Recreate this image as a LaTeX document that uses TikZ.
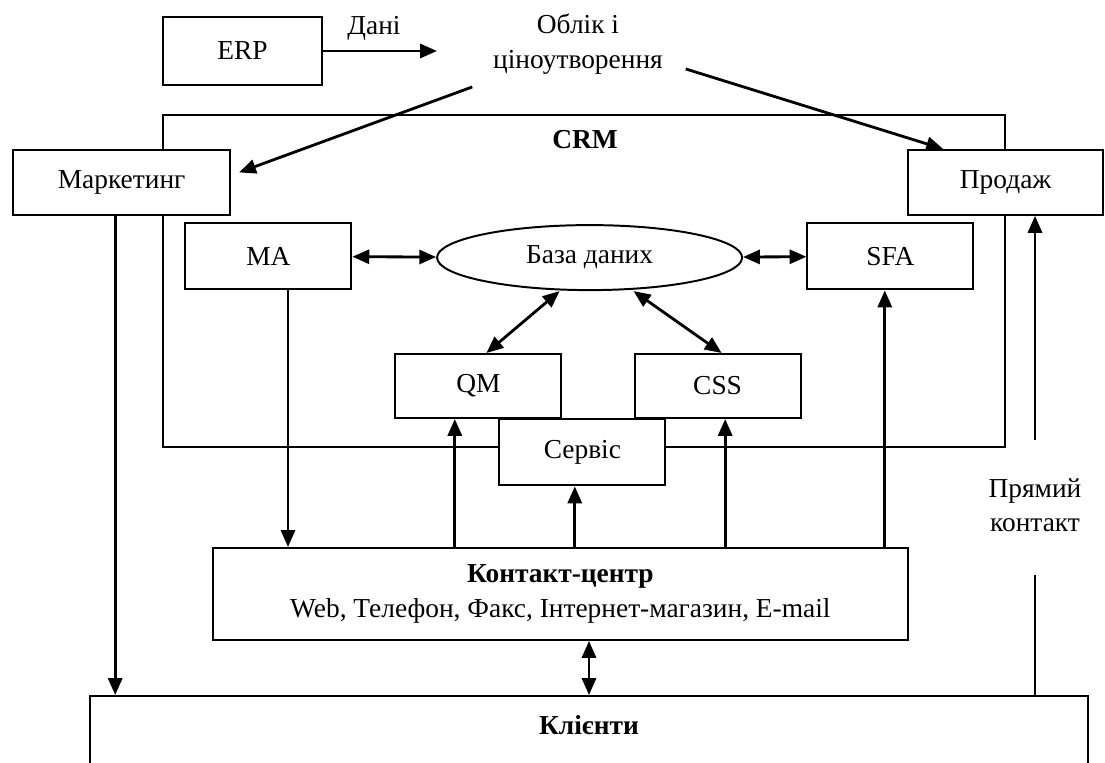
\documentclass[tikz,border=0pt]{standalone}
\usepackage{fontspec}
\setmainfont{Liberation Serif}
\usetikzlibrary{arrows.meta,shapes.geometric}

\tikzset{
  block/.style={draw, fill=white, line width=1.4pt, inner sep=0pt,
    minimum width=4.15cm, minimum height=1.65cm},
  link/.style={line width=2pt, -{Triangle[length=12pt,width=10pt]}},
  twolink/.style={line width=2pt,
    {Triangle[length=12pt,width=10pt]}-{Triangle[length=12pt,width=10pt]}},
}

\begin{document}
\begin{tikzpicture}[y=-1cm, font=\fontsize{19.5}{24.5}\selectfont]
                        \useasboundingbox (0,0) rectangle (27.625,19.05);

                        % CRM frame and its title
                        \node [draw, line width=1.4pt, minimum width=21.05cm, minimum height=8.3cm] (crm) at (14.6,7.025) {};%
                        \node [font=\fontsize{19.5}{24.5}\bfseries] (crmtitle) at (14.625,3.5) {CRM};%

                        % ERP and accounting
                        \node [block, minimum width=3.975cm, minimum height=1.7cm] (erp) at (6.06,1.275) {ERP};%
                        \node [align=center] (oblik) at (14.45,1.1) {Облік і\\ціноутворення};%
                        \coordinate (dani) at (10.925,1.275);%
                        \node (danilabel) at (9.35,0.72) {Дані};%

                        % Marketing and sales
                        \node [block, minimum width=5.425cm, minimum height=1.625cm] (marketing) at (3.04,4.56) {Маркетинг};%
                        \node [block, minimum width=4.875cm, minimum height=1.625cm] (prodazh) at (25.14,4.56) {Продаж};%

                        % Inner blocks of CRM
                        \node [block] (ma) at (6.71,6.41) {MA};%
                        \node [ellipse, draw, fill=white, line width=1.4pt, inner sep=0pt,
                               minimum width=7.625cm, minimum height=1.625cm] (db) at (14.74,6.44) {База даних};%
                        \node [block] (sfa) at (22.26,6.41) {SFA};%
                        \node [block, minimum height=1.6cm] (qm) at (11.96,9.65) {QM};%
                        \node [block, minimum height=1.6cm] (css) at (17.94,9.65) {CSS};%
                        \node [block] (servis) at (14.56,11.31) {Сервіс};%

                        % Contact centre and clients
                        \node [block, minimum width=17.375cm, minimum height=2.3cm, align=center] (contact) at (14.01,14.85)
                              {\textbf{Контакт-центр}\\Web, Телефон, Факс, Інтернет-магазин, E-mail};%
                        \node [block, anchor=north, minimum width=24.95cm, minimum height=2.5cm,
                               label={[anchor=center, yshift=-0.75cm, font=\fontsize{19.5}{24.5}\bfseries]north:Клієнти}] (klienty) at (14.725,17.375) {};%

                        % Direct contact
                        \node [align=center] (direct) at (25.875,12.625) {Прямий\\контакт};%
                        \coordinate (pk1) at (25.875,14.375);%
                        \coordinate (pk2) at (25.875,11.0);%

                        % Drawing arrows from ERP and accounting
                        \draw [link] (erp) -- (dani);%
                        \draw [link] ([xshift=-0.4cm,yshift=-0.2cm]oblik.south west) -- ([xshift=0.2cm,yshift=0.25cm]marketing.east);%
                        \draw [link] ([xshift=0.45cm,yshift=0.25cm]oblik.south east) -- ([xshift=0.9cm]prodazh.north west);%

                        % Drawing arrows round the database
                        \draw [twolink] (ma) -- (db);%
                        \draw [twolink] (db) -- (sfa);%
                        \draw [twolink] ([xshift=-0.75cm]db.south) -- ([xshift=0.2cm]qm.north);%
                        \draw [twolink] ([xshift=1.1cm]db.south) -- ([xshift=0.1cm]css.north);%

                        % Drawing arrows to the contact centre
                        \draw [link] ([xshift=0.49cm]ma.south) -- ([xshift=0.49cm]contact.north -| ma.south);%
                        \draw [link] ([xshift=-0.59cm]contact.north -| qm.south) -- ([xshift=-0.59cm]qm.south);%
                        \draw [link] ([xshift=-0.19cm]contact.north -| servis.south) -- ([xshift=-0.19cm]servis.south);%
                        \draw [link] ([xshift=0.19cm]contact.north -| css.south) -- ([xshift=0.19cm]css.south);%
                        \draw [link] ([xshift=-0.14cm]contact.north -| sfa.south) -- ([xshift=-0.14cm]sfa.south);%

                        % Drawing arrows to the clients
                        \draw [link] ([xshift=-0.16cm]marketing.south) -- ([xshift=-0.16cm]klienty.north -| marketing.south);%
                        \draw [twolink] (contact.south -| klienty.north) -- (klienty.north);%
                        \draw [line width=2pt] (klienty.north -| pk1) -- (pk1);%
                        \draw [link] (pk2) -- (pk2 |- prodazh.south);%
                    \end{tikzpicture}
\end{document}
